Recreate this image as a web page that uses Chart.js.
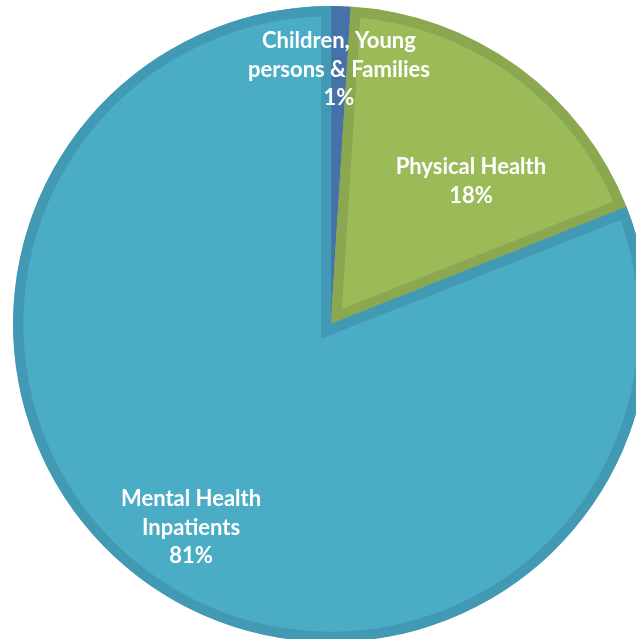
<!DOCTYPE html>
<html>
<head>
<meta charset="utf-8">
<script src="https://cdn.jsdelivr.net/npm/chart.js@4/dist/chart.umd.min.js"></script>
<style>
html,body{margin:0;padding:0;overflow:hidden;background:#fff;width:636px;height:639px;}
#wrap{position:absolute;left:0;top:0;width:662px;height:648px;}
</style>
</head>
<body>
<div id="wrap"><canvas id="c" width="662" height="648"></canvas></div>
<script>
const categories = [["Children, Young", "persons & Families"], ["Physical Health"], ["Mental Health", "Inpatients"]];
const values = [1, 18, 81];
const percentLabels = ["1%", "18%", "81%"];
const fillColors = ["#4F81BD", "#9BBB59", "#4BACC6"];
const borderColors = ["#4672A9", "#8BA851", "#4299B3"];
// label anchor offsets relative to centre, in units of radius
const labelAnchors = [[0.025, -0.80], [0.44, -0.448], [-0.44, 0.64]];

const labelPlugin = {
  id: 'sliceLabels',
  afterDatasetsDraw(chart) {
    const ctx = chart.ctx;
    const meta = chart.getDatasetMeta(0);
    ctx.save();
    ctx.fillStyle = '#ffffff';
    ctx.font = 'bold 22px Lato, "Open Sans", sans-serif';
    ctx.textAlign = 'center';
    ctx.textBaseline = 'middle';
    const lh = 28.5;
    meta.data.forEach((arc, i) => {
      const r = arc.outerRadius;
      const cx = arc.x + labelAnchors[i][0] * r;
      const cy = arc.y + labelAnchors[i][1] * r;
      const lines = categories[i].concat([percentLabels[i]]);
      const y0 = cy - (lines.length - 1) * lh / 2;
      lines.forEach((t, k) => ctx.fillText(t, cx, y0 + k * lh));
    });
    ctx.restore();
  }
};

new Chart(document.getElementById('c'), {
  type: 'pie',
  data: {
    labels: categories.map(c => c.join(' ')),
    datasets: [{
      data: values,
      backgroundColor: fillColors,
      borderColor: borderColors,
      borderWidth: 10,
      borderAlign: 'inner',
      borderJoinStyle: 'miter'
    }]
  },
  options: {
    responsive: false,
    animation: false,
    radius: 318,
    layout: { padding: 0 },
    plugins: { legend: { display: false }, tooltip: { enabled: false } }
  },
  plugins: [labelPlugin]
});
</script>
</body>
</html>
